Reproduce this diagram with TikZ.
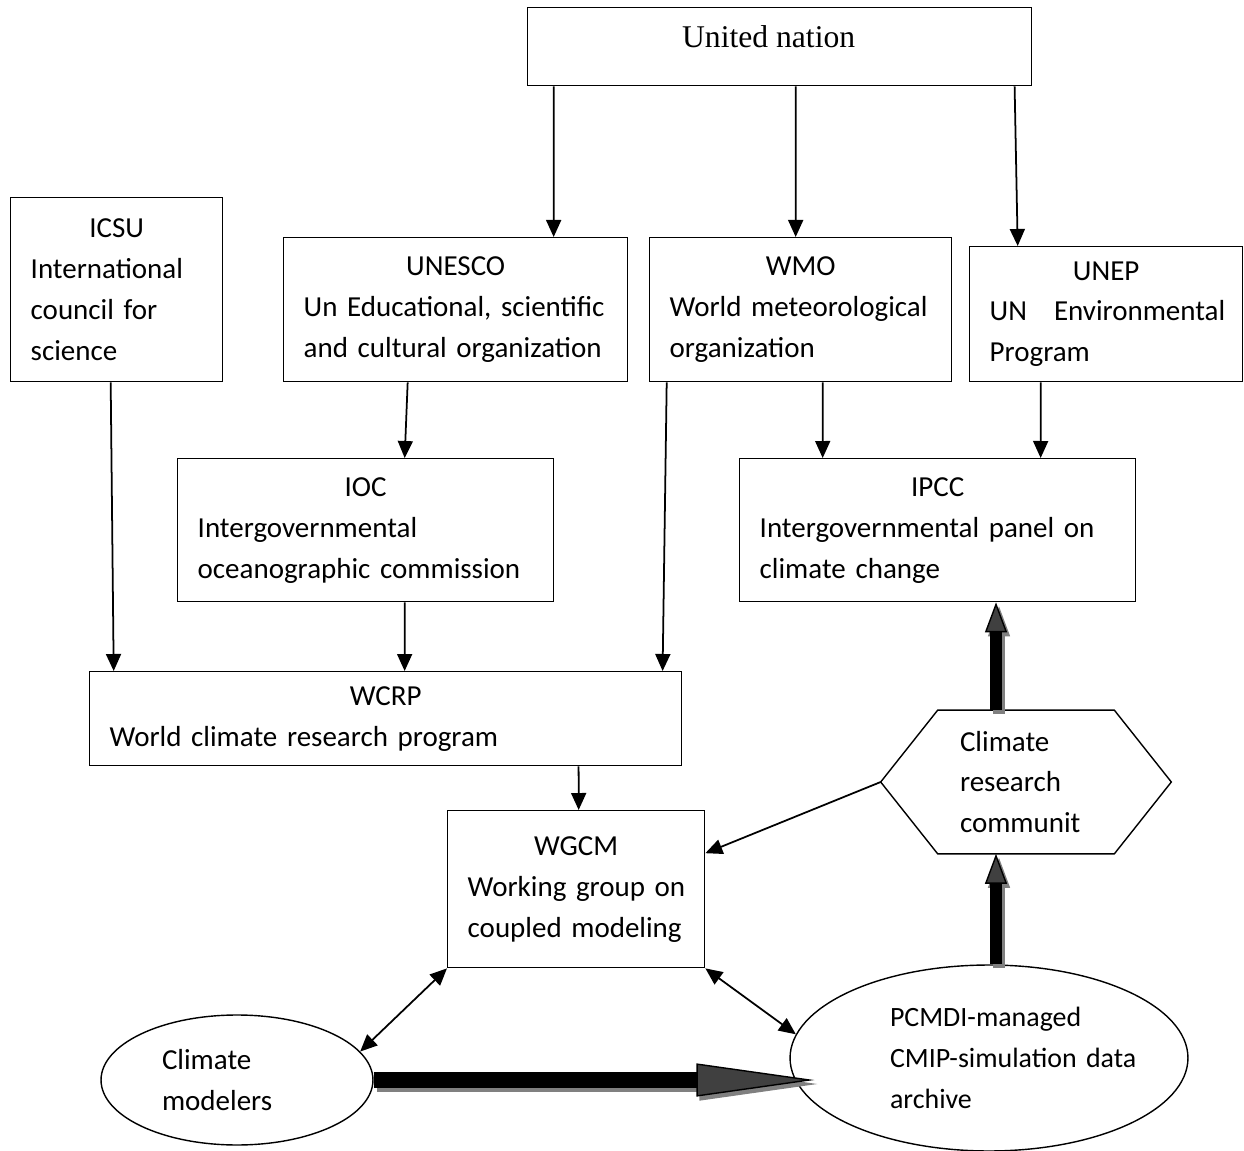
\documentclass[tikz,border=0pt]{standalone}
\usepackage{fontspec}
\setmainfont{Carlito}
\newfontfamily\unfont{Liberation Serif}
\usetikzlibrary{arrows.meta,shapes.geometric}

\begin{document}
\begin{tikzpicture}[x=0.02cm,y=-0.02cm,font=\fontsize{16.5}{23.3}\selectfont]
  \tikzset{
    box/.style={draw, line width=0.8pt, anchor=north west, inner xsep=0.4cm, inner ysep=0pt, align=left},
    oval/.style={draw, line width=0.8pt, ellipse, inner sep=0pt, align=left},
    link/.style={line width=1pt, -{Triangle[length=0.34cm,width=0.3cm]}},
    twoway/.style={line width=1pt, {Triangle[length=0.34cm,width=0.3cm]}-{Triangle[length=0.34cm,width=0.3cm]}},
    wide/.style={line width=0.32cm, -{Triangle[length=2.36cm,width=0.66cm,line width=0.8pt,fill=#1]}},
    slim/.style={line width=0.24cm, -{Triangle[length=0.6cm,width=0.44cm,line width=0.8pt,fill=#1]}},
    ghost/.style={draw=gray, transform canvas={shift={(3,4)}}}
  }
  \useasboundingbox (0,0) rectangle (1244,1151);

  % top row
  \node[draw, line width=0.8pt, anchor=north west, minimum width=10.08cm, inner sep=0pt,
        text height=0.8cm, text depth=0.76cm, font=\unfont\fontsize{18}{20}\selectfont]
        (un) at (527,7) {United nation\kern0.44cm};

  \node[box, minimum width=4.24cm, minimum height=3.68cm, text width=3.44cm] (icsu) at (10,197)
    {{\centering ICSU\par}International\\council for\\science};
  \node[box, minimum width=6.88cm, minimum height=2.88cm, text width=6.08cm] (unesco) at (283,237)
    {{\centering UNESCO\par}\mbox{Un Educational, scientific}\\\mbox{and cultural organization}};
  \node[box, minimum width=6.04cm, minimum height=2.88cm, text width=5.24cm] (wmo) at (649,237)
    {{\centering WMO\par}\mbox{World meteorological}\\organization};
  \node[box, minimum width=5.46cm, minimum height=2.7cm, text width=4.66cm] (unep) at (969,246)
    {{\centering UNEP\par}\mbox{UN\hspace{0.54cm}Environmental}\\Program};

  % middle
  \node[box, minimum width=7.52cm, minimum height=2.86cm, text width=6.72cm] (ioc) at (177,458)
    {{\centering IOC\par}Intergovernmental\\\mbox{oceanographic commission}};
  \node[box, minimum width=7.92cm, minimum height=2.86cm, text width=7.12cm] (ipcc) at (739,458)
    {{\centering IPCC\par}\mbox{Intergovernmental panel on}\\climate change};
  \node[box, minimum width=11.84cm, minimum height=1.88cm, text width=11.04cm] (wcrp) at (89,671)
    {{\centering WCRP\par}World climate research program};
  \node[box, minimum width=5.14cm, minimum height=3.14cm, text width=4.34cm] (wgcm) at (447,810)
    {{\centering WGCM\par}\mbox{Working group on}\\\mbox{coupled modeling}};

  \node[minimum width=5.8cm, minimum height=2.86cm, inner sep=0pt, text width=2.64cm, align=left]
    (hex) at (1026,782) {Climate\\research\\communit};
  \draw[line width=0.8pt] (hex.west) -- ([xshift=1.14cm]hex.north west) -- ([xshift=-1.14cm]hex.north east)
    -- (hex.east) -- ([xshift=-1.14cm]hex.south east) -- ([xshift=1.14cm]hex.south west) -- cycle;

  % bottom
  \node[oval, minimum width=5.44cm, minimum height=2.6cm, text width=3cm] (cm) at (237,1080)
    {Climate\\modelers};
  \node[oval, minimum width=7.96cm, minimum height=3.72cm, text width=3.96cm,
        font=\fontsize{15.9}{23.3}\selectfont] (pcmdi) at (989,1058)
    {\mbox{PCMDI-managed}\\\mbox{CMIP-simulation data}\\archive};

  % thin arrows
  \draw[link] ([xshift=-4.52cm]un.south) -- ([xshift=1.96cm]unesco.north);
  \draw[link] ([xshift=0.32cm]un.south) -- ([xshift=-0.1cm]wmo.north);
  \draw[link] ([xshift=4.7cm]un.south) -- ([xshift=-1.77cm]unep.north);
  \draw[link] ([xshift=-0.12cm]icsu.south) -- ([xshift=-5.44cm]wcrp.north);
  \draw[link] ([xshift=-0.96cm]unesco.south) -- ([xshift=0.78cm]ioc.north);
  \draw[link] ([xshift=0.78cm]ioc.south) -- ([xshift=0.38cm]wcrp.north);
  \draw[link] ([xshift=-2.68cm]wmo.south) -- ([xshift=5.54cm]wcrp.north);
  \draw[link] ([xshift=0.44cm]wmo.south) -- ([xshift=-2.3cm]ipcc.north);
  \draw[link] ([xshift=-1.31cm]unep.south) -- ([xshift=2.06cm]ipcc.north);
  \draw[link] ([xshift=3.86cm]wcrp.south) -- ([xshift=0.05cm]wgcm.north);
  \draw[link] (hex.west) -- ([yshift=0.72cm]wgcm.east);
  \draw[twoway] (wgcm.south west) -- (cm.13);
  \draw[twoway] (wgcm.south east) -- (pcmdi.173);

  % fat arrows
  \draw[wide=gray, ghost] (cm.east) -- ([xshift=0.5cm]cm.east -| pcmdi.west);
  \draw[wide=gray!50!black] (cm.east) -- ([xshift=0.5cm]cm.east -| pcmdi.west);
  \draw[slim=gray, ghost] ([xshift=0.14cm]pcmdi.north) -- ([xshift=0.14cm]pcmdi.north |- hex.south);
  \draw[slim=gray!50!black] ([xshift=0.14cm]pcmdi.north) -- ([xshift=0.14cm]pcmdi.north |- hex.south);
  \draw[slim=gray, ghost] ([xshift=-0.6cm]hex.north) -- ([xshift=-0.6cm]hex.north |- ipcc.south);
  \draw[slim=gray!50!black] ([xshift=-0.6cm]hex.north) -- ([xshift=-0.6cm]hex.north |- ipcc.south);
\end{tikzpicture}
\end{document}
